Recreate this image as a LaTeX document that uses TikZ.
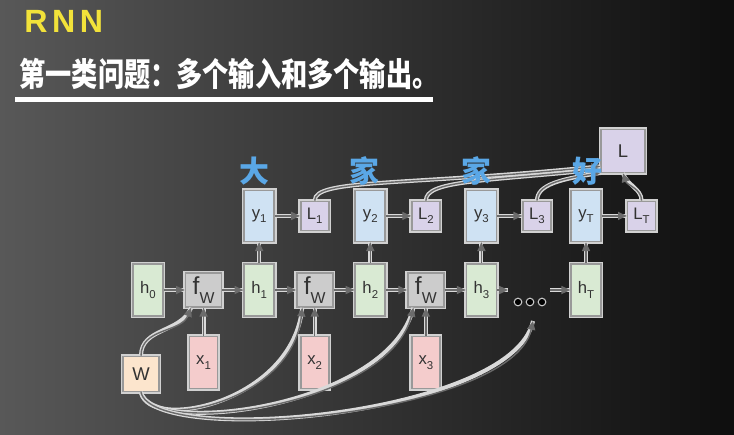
\documentclass[tikz,border=0pt]{standalone}
\usepackage{fontspec}
\setmainfont{Liberation Sans}
\newfontfamily\cjk{Noto Sans CJK SC}
\newfontfamily\headfont{Liberation Sans}[LetterSpace=14]
\usepackage{graphicx}
\usepackage{tikz}
\usetikzlibrary{positioning,arrows.meta}

\definecolor{hgreen}{HTML}{D9EAD3}
\definecolor{yblue}{HTML}{CFE2F3}
\definecolor{lpurple}{HTML}{D9D2E9}
\definecolor{xpink}{HTML}{F4CCCC}
\definecolor{fgray}{HTML}{CCCCCC}
\definecolor{worange}{HTML}{FCE5CD}
\definecolor{wordblue}{HTML}{5AA7E6}
\definecolor{rnnyellow}{HTML}{F2E23A}
\definecolor{bgleft}{HTML}{585858}
\definecolor{bgmid}{HTML}{2A2A2A}
\definecolor{bgright}{HTML}{0E0E0E}

\newcommand{\lowidx}[2]{#1\raisebox{-2.4pt}{\fontsize{6.5}{7}\selectfont #2}}
\newcommand{\fw}{{\fontsize{14}{14}\selectfont f}\raisebox{-5pt}{\fontsize{9}{9}\selectfont W}}

\begin{document}
\begin{tikzpicture}[x=0.02cm, y=-0.02cm, node distance=0.42cm, every node/.style={font=\fontsize{9.5}{11}\selectfont, text=black!80}]
\tikzstyle{box}=[rectangle, draw=black!40, line width=0.9pt, preaction={draw=white!82!black, line width=2.8pt}, inner sep=0pt, align=center]
\tikzstyle{hbox}=[box, fill=hgreen, minimum width=0.6cm, minimum height=1.04cm]
\tikzstyle{fbox}=[box, fill=fgray, minimum width=0.72cm, minimum height=0.68cm]
\tikzstyle{xbox}=[box, fill=xpink, minimum width=0.56cm, minimum height=1.04cm]
\tikzstyle{ybox}=[box, fill=yblue, minimum width=0.6cm, minimum height=1.02cm]
\tikzstyle{lbox}=[box, fill=lpurple, minimum width=0.56cm, minimum height=0.58cm]
\tikzstyle{link}=[draw=black!58, line width=0.8pt, -{Triangle[length=5pt, width=4.6pt]}, preaction={draw=white!85!black, line width=2.3pt, -}]
\tikzstyle{word}=[font=\cjk\bfseries\fontsize{17}{17}\selectfont, text=wordblue, inner sep=0pt]

% background
\shade[left color=bgleft, middle color=bgmid, right color=bgright] (0,0) rectangle (734,434);
\useasboundingbox (0,0) rectangle (734,434);

% heading
\node[font=\headfont\bfseries\fontsize{18.3}{20}\selectfont, text=rnnyellow, anchor=west, inner sep=0pt] (rnn) at (24,21.5) {RNN};
\node[font=\cjk\bfseries\fontsize{14.9}{16}\selectfont, text=white, inner sep=0pt] (title) at (229,74) {\scalebox{1}[1.25]{第一类问题：多个输入和多个输出。}};
\draw[white, line width=2.8pt] (15,99.5) -- (433,99.5);

% hidden chain
\node[hbox] (h0) at (148,290) {\lowidx{h}{0}};
\node[fbox, right=of h0] (f1) {\fw};
\node[hbox, right=of f1] (h1) {\lowidx{h}{1}};
\node[fbox, right=of h1] (f2) {\fw};
\node[hbox, right=of f2] (h2) {\lowidx{h}{2}};
\node[fbox, right=of h2] (f3) {\fw};
\node[hbox, right=of f3] (h3) {\lowidx{h}{3}};
\node[hbox] (hT) at (586,290) {\lowidx{h}{T}};
\coordinate (dl) at (508,290);
\coordinate (dr) at (550,290);
\coordinate (wend) at (533,321);

% inputs and weights
\foreach \i in {1,2,3}
  \node[xbox, below=0.56cm of f\i] (x\i) {\lowidx{x}{\i}};
\node[box, fill=worange, minimum width=0.72cm, minimum height=0.7cm, font=\fontsize{10.5}{12}\selectfont] (W) at (141,374) {W};

% outputs and losses
\foreach \i in {1,2,3,T} {
  \node[ybox, above=of h\i] (y\i) {\lowidx{y}{\i}};
  \node[lbox, right=0.5cm of y\i] (L\i) {\lowidx{L}{\i}};
}
\node[lbox, minimum width=0.88cm, minimum height=0.86cm, font=\fontsize{10.5}{12}\selectfont] (L) at (623,151) {L};

% dots
\foreach \px in {518,530,542}
  \filldraw[fill=black, draw=white!80!black, line width=0.6pt] (\px,302) circle (3.8);

% links
\draw[link] (h0) -- (f1);
\draw[link] (f1) -- (h1);
\draw[link] (h1) -- (f2);
\draw[link] (f2) -- (h2);
\draw[link] (h2) -- (f3);
\draw[link] (f3) -- (h3);
\draw[link] (h3) -- (dl);
\draw[link] (dr) -- (hT);
\foreach \i in {1,2,3}
  \draw[link] (x\i) -- (f\i);
\foreach \i in {1,2,3,T} {
  \draw[link] (h\i) -- (y\i);
  \draw[link] (y\i) -- (L\i);
}
\draw[link] (W.north) .. controls +(0,-28) and +(-10,25) .. (f1.235);
\draw[link] (W.south) .. controls +(8,40) and +(-10,95) .. (f2.235);
\draw[link] (W.south) .. controls +(10,45) and +(-25,100) .. (f3.235);
\draw[link] (W.south) .. controls +(12,55) and +(-20,95) .. (wend);
\draw[link] (L1.north) .. controls +(0,-22) and +(-200,20) .. (L.214);
\draw[link] (L2.north) .. controls +(0,-20) and +(-120,12) .. (L.219);
\draw[link] (L3.north) .. controls +(0,-16) and +(-40,6) .. (L.224);
\draw[link] (LT.north) .. controls +(0,-12) and +(4,12) .. (L.south);

% words
\node[word] (w1) at (254,171) {大};
\node[word] (w2) at (364,171) {家};
\node[word] (w3) at (476,171) {家};
\node[word] (wT) at (587,171) {好};
\end{tikzpicture}
\end{document}
